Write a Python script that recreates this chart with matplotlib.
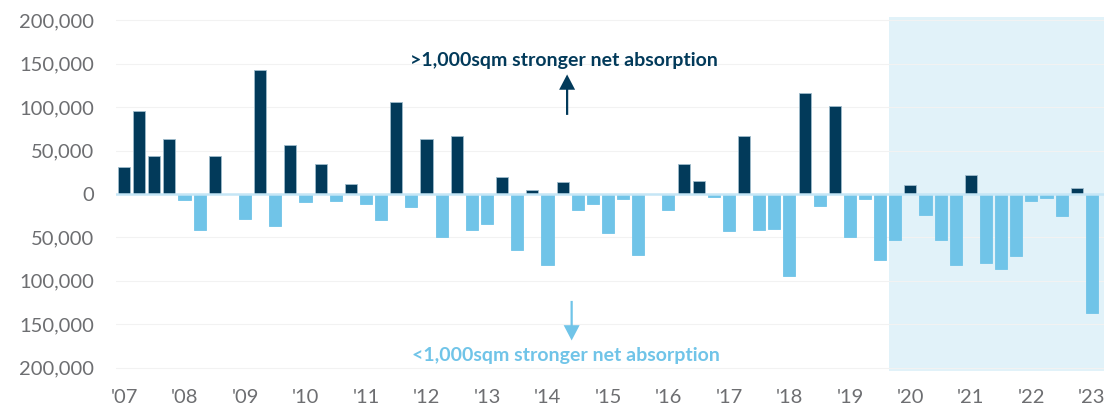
import matplotlib.pyplot as plt
from matplotlib.ticker import FuncFormatter

# quarterly net absorption difference (sqm), Q1 2007 .. Q1 2023
years = ["'07", "'08", "'09", "'10", "'11", "'12", "'13", "'14", "'15",
         "'16", "'17", "'18", "'19", "'20", "'21", "'22", "'23"]
net_absorption = [31500, 96000, 44000, 63000, -6500, -41000, 44000, 0,
                  -28500, 143000, -37000, 56000, -9000, 35000, -7500, 12000,
                  -11000, -29500, 106000, -14500, 63000, -49000, 67000, -41000,
                  -35000, 20000, -64000, 4500, -82000, 14000, -19000, -11000,
                  -44500, -5500, -70000, -500, -18000, 35000, 14500, -4000,
                  -43000, 67000, -41000, -40000, -94000, 116000, -13500, 102000,
                  -49000, -5500, -75500, -53500, 10000, -24000, -53500, -82000,
                  22000, -80000, -86000, -72000, -7500, -4500, -25000, 7000,
                  -137500]
shade_start = 50.6  # highlighted period from late 2019

navy = '#023a5a'
light = '#70c4e8'
grey = '#6d6e71'

plt.rcParams['font.family'] = ['Lato', 'DejaVu Sans']

fig = plt.figure(figsize=(11.12, 4.11), dpi=100)
ax = fig.add_axes([0.1043, 0.0973, 0.8885, 0.8613])

x = list(range(len(net_absorption)))
colors = [navy if v > 0 else light for v in net_absorption]
edges = ['#9fbccc' if v > 0 else light for v in net_absorption]
ax.bar(x, net_absorption, width=0.8, color=colors, edgecolor=edges,
       linewidth=0.6, zorder=3)

ax.axvspan(shade_start, 64.8, color='#e1f2f9', zorder=0, lw=0)
ax.axhline(0, color='#c5e6f6', lw=1.8, zorder=4)

ax.set_xlim(-0.53, 64.8)
ax.set_ylim(-204000, 204000)
ax.set_yticks(range(-200000, 200001, 50000))
ax.yaxis.set_major_formatter(FuncFormatter(lambda v, p: f'{abs(int(v)):,}'))
ax.set_xticks(x[::4])
ax.set_xticklabels(years)
ax.grid(axis='y', color='#f2f2f2', lw=0.8, zorder=1)
ax.tick_params(axis='both', length=0, labelsize=14.5, labelcolor=grey)
ax.tick_params(axis='y', pad=16)
ax.tick_params(axis='x', pad=13)
for s in ax.spines.values():
    s.set_visible(False)

# direction annotations
arrow = 'simple,head_width=1.15,head_length=1.1,tail_width=0.16'
ax.annotate('', xy=(29.3, 141000), xytext=(29.3, 88000),
            arrowprops=dict(arrowstyle=arrow, color=navy, lw=0), zorder=5)
ax.text(29.1, 154000, '>1,000sqm stronger net absorption', color=navy,
        fontsize=14, fontweight='bold', ha='center', va='center', zorder=5)
ax.annotate('', xy=(29.6, -172000), xytext=(29.6, -120000),
            arrowprops=dict(arrowstyle=arrow, color=light, lw=0), zorder=5)
ax.text(29.2, -186000, '<1,000sqm stronger net absorption', color=light,
        fontsize=14, fontweight='bold', ha='center', va='center', zorder=5)

fig.savefig('out.png', dpi=100)
